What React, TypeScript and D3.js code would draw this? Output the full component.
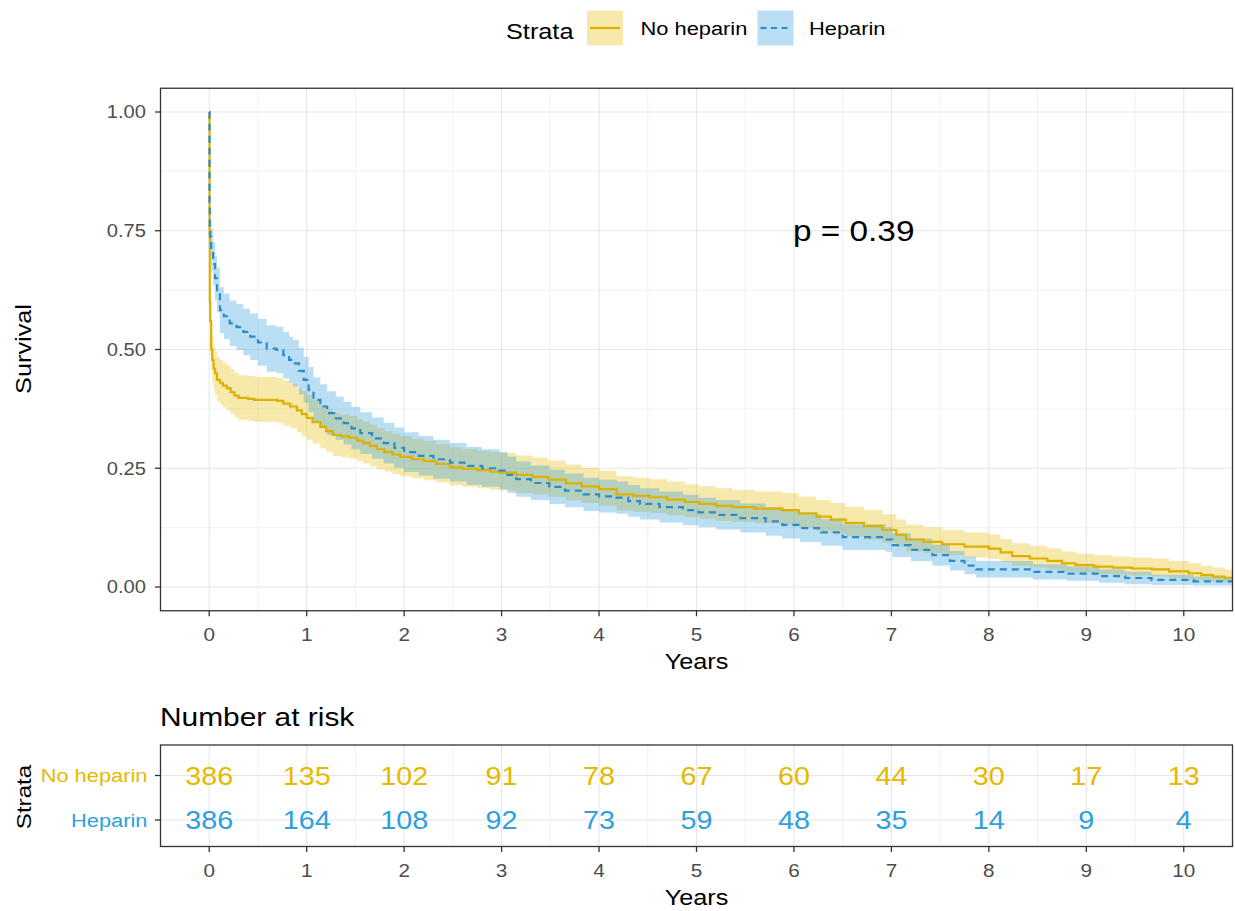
import React from 'react';
import * as d3 from 'd3';

// Kaplan–Meier estimates (years, survival probability, 95% CI)
const noHepTime = [0, 0.003, 0.006, 0.01, 0.02, 0.03, 0.045, 0.06, 0.08, 0.11, 0.14, 0.18, 0.22, 0.26, 0.3, 0.4, 0.46, 0.7, 0.76, 0.83, 0.9, 0.95, 1.0, 1.06, 1.14, 1.2, 1.27, 1.35, 1.44, 1.52, 1.58, 1.65, 1.72, 1.8, 1.88, 1.96, 2.08, 2.2, 2.33, 2.47, 2.6, 2.75, 2.88, 2.98, 3.15, 3.32, 3.48, 3.66, 3.82, 4.0, 4.18, 4.35, 4.52, 4.7, 4.88, 5.03, 5.2, 5.37, 5.6, 5.88, 6.05, 6.23, 6.38, 6.53, 6.72, 6.91, 7.05, 7.15, 7.33, 7.52, 7.75, 8.0, 8.12, 8.24, 8.42, 8.6, 8.75, 8.89, 9.08, 9.27, 9.47, 9.67, 9.85, 10.05, 10.18, 10.3, 10.42, 10.5];
const noHepSurv = [1.0, 0.74, 0.6, 0.56, 0.5, 0.478, 0.46, 0.45, 0.436, 0.43, 0.424, 0.418, 0.41, 0.403, 0.398, 0.396, 0.394, 0.392, 0.386, 0.38, 0.372, 0.364, 0.356, 0.347, 0.337, 0.328, 0.32, 0.317, 0.314, 0.308, 0.303, 0.297, 0.29, 0.284, 0.279, 0.274, 0.269, 0.265, 0.259, 0.252, 0.249, 0.246, 0.243, 0.241, 0.236, 0.232, 0.226, 0.218, 0.212, 0.206, 0.195, 0.192, 0.189, 0.184, 0.179, 0.175, 0.171, 0.168, 0.165, 0.162, 0.155, 0.148, 0.142, 0.135, 0.128, 0.12, 0.11, 0.1, 0.095, 0.09, 0.085, 0.081, 0.073, 0.065, 0.06, 0.055, 0.05, 0.046, 0.043, 0.041, 0.039, 0.037, 0.033, 0.029, 0.025, 0.022, 0.019, 0.018];
const noHepLower = [1.0, 0.7, 0.555, 0.515, 0.455, 0.432, 0.414, 0.404, 0.39, 0.384, 0.378, 0.372, 0.364, 0.357, 0.352, 0.35, 0.348, 0.346, 0.34, 0.334, 0.326, 0.318, 0.31, 0.302, 0.292, 0.284, 0.276, 0.273, 0.27, 0.265, 0.26, 0.254, 0.248, 0.243, 0.238, 0.233, 0.229, 0.225, 0.22, 0.214, 0.211, 0.208, 0.205, 0.203, 0.198, 0.195, 0.19, 0.182, 0.177, 0.171, 0.161, 0.158, 0.156, 0.151, 0.147, 0.143, 0.139, 0.137, 0.134, 0.131, 0.125, 0.118, 0.113, 0.107, 0.1, 0.093, 0.084, 0.075, 0.071, 0.067, 0.062, 0.059, 0.052, 0.045, 0.041, 0.037, 0.033, 0.03, 0.027, 0.026, 0.024, 0.022, 0.019, 0.016, 0.013, 0.011, 0.009, 0.008];
const noHepUpper = [1.0, 0.78, 0.645, 0.605, 0.548, 0.526, 0.508, 0.498, 0.484, 0.478, 0.472, 0.466, 0.458, 0.451, 0.446, 0.444, 0.442, 0.44, 0.434, 0.428, 0.42, 0.412, 0.404, 0.394, 0.384, 0.374, 0.366, 0.363, 0.36, 0.353, 0.348, 0.342, 0.335, 0.328, 0.323, 0.318, 0.312, 0.308, 0.301, 0.294, 0.291, 0.287, 0.284, 0.282, 0.277, 0.272, 0.266, 0.258, 0.251, 0.245, 0.233, 0.23, 0.227, 0.222, 0.216, 0.212, 0.208, 0.204, 0.201, 0.198, 0.19, 0.183, 0.177, 0.169, 0.162, 0.153, 0.142, 0.131, 0.126, 0.12, 0.115, 0.11, 0.101, 0.092, 0.087, 0.081, 0.075, 0.07, 0.067, 0.064, 0.062, 0.06, 0.055, 0.05, 0.045, 0.041, 0.037, 0.036];

const hepTime = [0, 0.003, 0.006, 0.01, 0.02, 0.04, 0.06, 0.08, 0.11, 0.15, 0.21, 0.28, 0.35, 0.42, 0.5, 0.59, 0.69, 0.76, 0.82, 0.86, 0.92, 0.97, 1.02, 1.07, 1.14, 1.21, 1.3, 1.38, 1.46, 1.55, 1.67, 1.79, 1.9, 2.0, 2.15, 2.3, 2.47, 2.64, 2.8, 2.98, 3.06, 3.15, 3.3, 3.49, 3.65, 3.84, 4.0, 4.18, 4.3, 4.42, 4.62, 4.86, 5.02, 5.2, 5.45, 5.71, 5.88, 6.06, 6.28, 6.5, 6.94, 7.01, 7.2, 7.42, 7.6, 7.75, 7.87, 8.45, 8.8, 9.13, 9.4, 9.67, 10.1, 10.5];
const hepSurv = [1.0, 0.8, 0.76, 0.737, 0.71, 0.68, 0.65, 0.625, 0.583, 0.57, 0.555, 0.547, 0.537, 0.527, 0.515, 0.502, 0.499, 0.488, 0.478, 0.471, 0.455, 0.436, 0.415, 0.394, 0.38, 0.366, 0.355, 0.345, 0.334, 0.324, 0.313, 0.303, 0.293, 0.284, 0.276, 0.269, 0.262, 0.255, 0.25, 0.245, 0.236, 0.227, 0.219, 0.211, 0.203, 0.195, 0.191, 0.188, 0.181, 0.175, 0.168, 0.162, 0.157, 0.152, 0.145, 0.138, 0.131, 0.124, 0.115, 0.105, 0.1, 0.088, 0.078, 0.067, 0.055, 0.045, 0.037, 0.032, 0.028, 0.023, 0.019, 0.015, 0.012, 0.011];
const hepLower = [1.0, 0.76, 0.718, 0.694, 0.665, 0.634, 0.603, 0.578, 0.535, 0.522, 0.507, 0.499, 0.488, 0.478, 0.466, 0.453, 0.45, 0.439, 0.429, 0.422, 0.406, 0.388, 0.368, 0.347, 0.334, 0.32, 0.31, 0.3, 0.29, 0.28, 0.27, 0.26, 0.251, 0.242, 0.235, 0.228, 0.222, 0.215, 0.211, 0.206, 0.198, 0.19, 0.183, 0.175, 0.168, 0.16, 0.157, 0.154, 0.148, 0.142, 0.136, 0.13, 0.126, 0.121, 0.115, 0.108, 0.102, 0.095, 0.087, 0.078, 0.074, 0.063, 0.055, 0.045, 0.035, 0.027, 0.02, 0.016, 0.013, 0.009, 0.006, 0.004, 0.003, 0.002];
const hepUpper = [1.0, 0.84, 0.802, 0.78, 0.754, 0.726, 0.697, 0.672, 0.631, 0.618, 0.603, 0.596, 0.586, 0.576, 0.564, 0.551, 0.548, 0.537, 0.527, 0.52, 0.504, 0.484, 0.463, 0.441, 0.427, 0.412, 0.401, 0.39, 0.379, 0.368, 0.357, 0.346, 0.336, 0.326, 0.318, 0.31, 0.303, 0.295, 0.29, 0.284, 0.275, 0.264, 0.256, 0.247, 0.239, 0.23, 0.226, 0.222, 0.215, 0.208, 0.201, 0.194, 0.188, 0.183, 0.176, 0.168, 0.161, 0.153, 0.143, 0.132, 0.126, 0.113, 0.102, 0.089, 0.076, 0.064, 0.055, 0.048, 0.043, 0.037, 0.032, 0.026, 0.022, 0.02];

// Number at risk table
const strataNames = ['No heparin', 'Heparin'];
const riskYears = [0, 1, 2, 3, 4, 5, 6, 7, 8, 9, 10];
const riskNoHeparin = [386, 135, 102, 91, 78, 67, 60, 44, 30, 17, 13];
const riskHeparin = [386, 164, 108, 92, 73, 59, 48, 35, 14, 9, 4];

const yTicks = [0, 0.25, 0.5, 0.75, 1];
const yMinor = [0.125, 0.375, 0.625, 0.875];
const xTicks = [0, 1, 2, 3, 4, 5, 6, 7, 8, 9, 10];
const xMinor = [0.5, 1.5, 2.5, 3.5, 4.5, 5.5, 6.5, 7.5, 8.5, 9.5];
const pValueLabel = 'p = 0.39';

const NOHEP = '#E7B800';
const HEP = '#2E9FDF';
const NOHEP_LINE = '#DDB000';
const HEP_LINE = '#2A8CCB';
const FONT = "'Liberation Sans', Arial, Helvetica, sans-serif";
const SX = 1.15;
const W = 1235;
const H = 911;

const panel = { left: 160.5, right: 1232.5, top: 88.25, bottom: 610.75 };
const tbl = { top: 745, bottom: 846.5 };

const x = d3.scaleLinear().domain([-0.5, 10.5]).range([panel.left, panel.right]);
const y = d3.scaleLinear().domain([-0.05, 1.05]).range([panel.bottom, panel.top]);
const rowY = d3.scalePoint<string>().domain(strataNames).range([775.5, 820]);

type Pt = { t: number; s: number; lo: number; hi: number };
const zipSeries = (t: number[], s: number[], lo: number[], hi: number[]): Pt[] =>
  t.map((v, i) => ({ t: v, s: s[i], lo: lo[i], hi: hi[i] }));

const series = [
  { name: 'No heparin', fill: NOHEP, color: NOHEP_LINE, dash: undefined as string | undefined, data: zipSeries(noHepTime, noHepSurv, noHepLower, noHepUpper) },
  { name: 'Heparin', fill: HEP, color: HEP_LINE, dash: '7,5', data: zipSeries(hepTime, hepSurv, hepLower, hepUpper) },
];

const line = d3.line<Pt>().x(d => x(d.t)).y(d => y(d.s)).curve(d3.curveStepAfter);
const band = d3.area<Pt>().x(d => x(d.t)).y0(d => y(d.lo)).y1(d => y(d.hi)).curve(d3.curveStepAfter);

function Txt(props: {
  x: number; y: number; size: number; anchor?: string; rotate?: number;
  fill?: string; children: React.ReactNode;
}) {
  const { x: tx, y: ty, size, anchor = 'start', rotate = 0, fill = '#000', children } = props;
  return (
    <text
      transform={`translate(${tx},${ty}) rotate(${rotate}) scale(${SX},1)`}
      fontSize={size}
      fontFamily={FONT}
      textAnchor={anchor as any}
      fill={fill}
    >
      {children}
    </text>
  );
}

const GRID_MAJOR = '#E6E6E6';
const GRID_MINOR = '#EFEFEF';
const AXIS_TXT = '#4D4D4D';
const BORDER = '#333333';

export default function App() {
  const riskRows = [
    { name: strataNames[0], values: riskNoHeparin, color: NOHEP },
    { name: strataNames[1], values: riskHeparin, color: HEP },
  ];
  return (
    <svg
      width={W}
      height={H}
      style={{ position: 'absolute', left: 0, top: 0, background: '#fff' }}
    >
      <defs>
        <clipPath id="km-clip">
          <rect x={panel.left} y={panel.top} width={panel.right - panel.left} height={panel.bottom - panel.top} />
        </clipPath>
      </defs>
      <rect x={0} y={0} width={W} height={H} fill="#fff" />

      {/* Legend */}
      <g>
        <Txt x={506} y={38.5} size={22}>Strata</Txt>
        <rect x={587} y={10.5} width={36} height={35} fill={NOHEP} fillOpacity={0.33} />
        <line x1={590} x2={620} y1={28} y2={28} stroke={NOHEP_LINE} strokeWidth={2.2} />
        <Txt x={640.5} y={35} size={19}>No heparin</Txt>
        <rect x={757.5} y={10.5} width={36} height={35} fill={HEP} fillOpacity={0.33} />
        <line x1={760.5} x2={790.5} y1={28} y2={28} stroke={HEP_LINE} strokeWidth={2.2} strokeDasharray="6,4.5" />
        <Txt x={809} y={35} size={19}>Heparin</Txt>
      </g>

      {/* Main panel */}
      <g>
        <rect x={panel.left} y={panel.top} width={panel.right - panel.left} height={panel.bottom - panel.top} fill="#fff" />
        {xMinor.map(v => (
          <line key={'xm' + v} x1={x(v)} x2={x(v)} y1={panel.top} y2={panel.bottom} stroke={GRID_MINOR} strokeWidth={0.9} />
        ))}
        {yMinor.map(v => (
          <line key={'ym' + v} x1={panel.left} x2={panel.right} y1={y(v)} y2={y(v)} stroke={GRID_MINOR} strokeWidth={0.9} />
        ))}
        {xTicks.map(v => (
          <line key={'xg' + v} x1={x(v)} x2={x(v)} y1={panel.top} y2={panel.bottom} stroke={GRID_MAJOR} strokeWidth={1.1} />
        ))}
        {yTicks.map(v => (
          <line key={'yg' + v} x1={panel.left} x2={panel.right} y1={y(v)} y2={y(v)} stroke={GRID_MAJOR} strokeWidth={1.1} />
        ))}

        <g clipPath="url(#km-clip)">
          {series.map(s => (
            <path key={'b' + s.name} d={band(s.data) || ''} fill={s.fill} fillOpacity={0.33} stroke="none" />
          ))}
          {series.map(s => (
            <path
              key={'l' + s.name}
              d={line(s.data) || ''}
              fill="none"
              stroke={s.color}
              strokeWidth={2.2}
              strokeDasharray={s.dash}
            />
          ))}
        </g>

        <Txt x={793} y={241} size={29}>{pValueLabel}</Txt>

        <rect x={panel.left} y={panel.top} width={panel.right - panel.left} height={panel.bottom - panel.top} fill="none" stroke={BORDER} strokeWidth={1.3} />

        {/* y axis */}
        {yTicks.map(v => (
          <g key={'yt' + v}>
            <line x1={panel.left - 5.5} x2={panel.left} y1={y(v)} y2={y(v)} stroke={BORDER} strokeWidth={1.3} />
            <Txt x={146} y={y(v) + 6.3} size={17.5} anchor="end" fill={AXIS_TXT}>{v.toFixed(2)}</Txt>
          </g>
        ))}
        <Txt x={30.5} y={349} size={22} anchor="middle" rotate={-90}>Survival</Txt>

        {/* x axis */}
        {xTicks.map(v => (
          <g key={'xt' + v}>
            <line x1={x(v)} x2={x(v)} y1={panel.bottom} y2={panel.bottom + 5.5} stroke={BORDER} strokeWidth={1.3} />
            <Txt x={x(v)} y={640.5} size={18} anchor="middle" fill={AXIS_TXT}>{String(v)}</Txt>
          </g>
        ))}
        <Txt x={x(5)} y={669} size={22} anchor="middle">Years</Txt>
      </g>

      {/* Number at risk table */}
      <g>
        <Txt x={160} y={725.5} size={26}>Number at risk</Txt>
        <rect x={panel.left} y={tbl.top} width={panel.right - panel.left} height={tbl.bottom - tbl.top} fill="#fff" />
        {xMinor.map(v => (
          <line key={'txm' + v} x1={x(v)} x2={x(v)} y1={tbl.top} y2={tbl.bottom} stroke={GRID_MINOR} strokeWidth={0.9} />
        ))}
        {xTicks.map(v => (
          <line key={'txg' + v} x1={x(v)} x2={x(v)} y1={tbl.top} y2={tbl.bottom} stroke={GRID_MAJOR} strokeWidth={1.1} />
        ))}
        {strataNames.map(n => (
          <line key={'tyg' + n} x1={panel.left} x2={panel.right} y1={rowY(n)!} y2={rowY(n)!} stroke={GRID_MAJOR} strokeWidth={1.1} />
        ))}
        {riskRows.map(r =>
          r.values.map((v, i) => (
            <Txt key={r.name + i} x={x(riskYears[i])} y={rowY(r.name)! + 9} size={25} anchor="middle" fill={r.color}>
              {String(v)}
            </Txt>
          ))
        )}
        <rect x={panel.left} y={tbl.top} width={panel.right - panel.left} height={tbl.bottom - tbl.top} fill="none" stroke={BORDER} strokeWidth={1.3} />
        {riskRows.map(r => (
          <g key={'tl' + r.name}>
            <line x1={panel.left - 5.5} x2={panel.left} y1={rowY(r.name)!} y2={rowY(r.name)!} stroke={BORDER} strokeWidth={1.3} />
            <Txt x={147.5} y={rowY(r.name)! + 6.8} size={19} anchor="end" fill={r.color}>{r.name}</Txt>
          </g>
        ))}
        <Txt x={30.5} y={797} size={21} anchor="middle" rotate={-90}>Strata</Txt>
        {xTicks.map(v => (
          <g key={'txt' + v}>
            <line x1={x(v)} x2={x(v)} y1={tbl.bottom} y2={tbl.bottom + 5.5} stroke={BORDER} strokeWidth={1.3} />
            <Txt x={x(v)} y={876.5} size={18} anchor="middle" fill={AXIS_TXT}>{String(v)}</Txt>
          </g>
        ))}
        <Txt x={x(5)} y={905} size={22} anchor="middle">Years</Txt>
      </g>
    </svg>
  );
}
